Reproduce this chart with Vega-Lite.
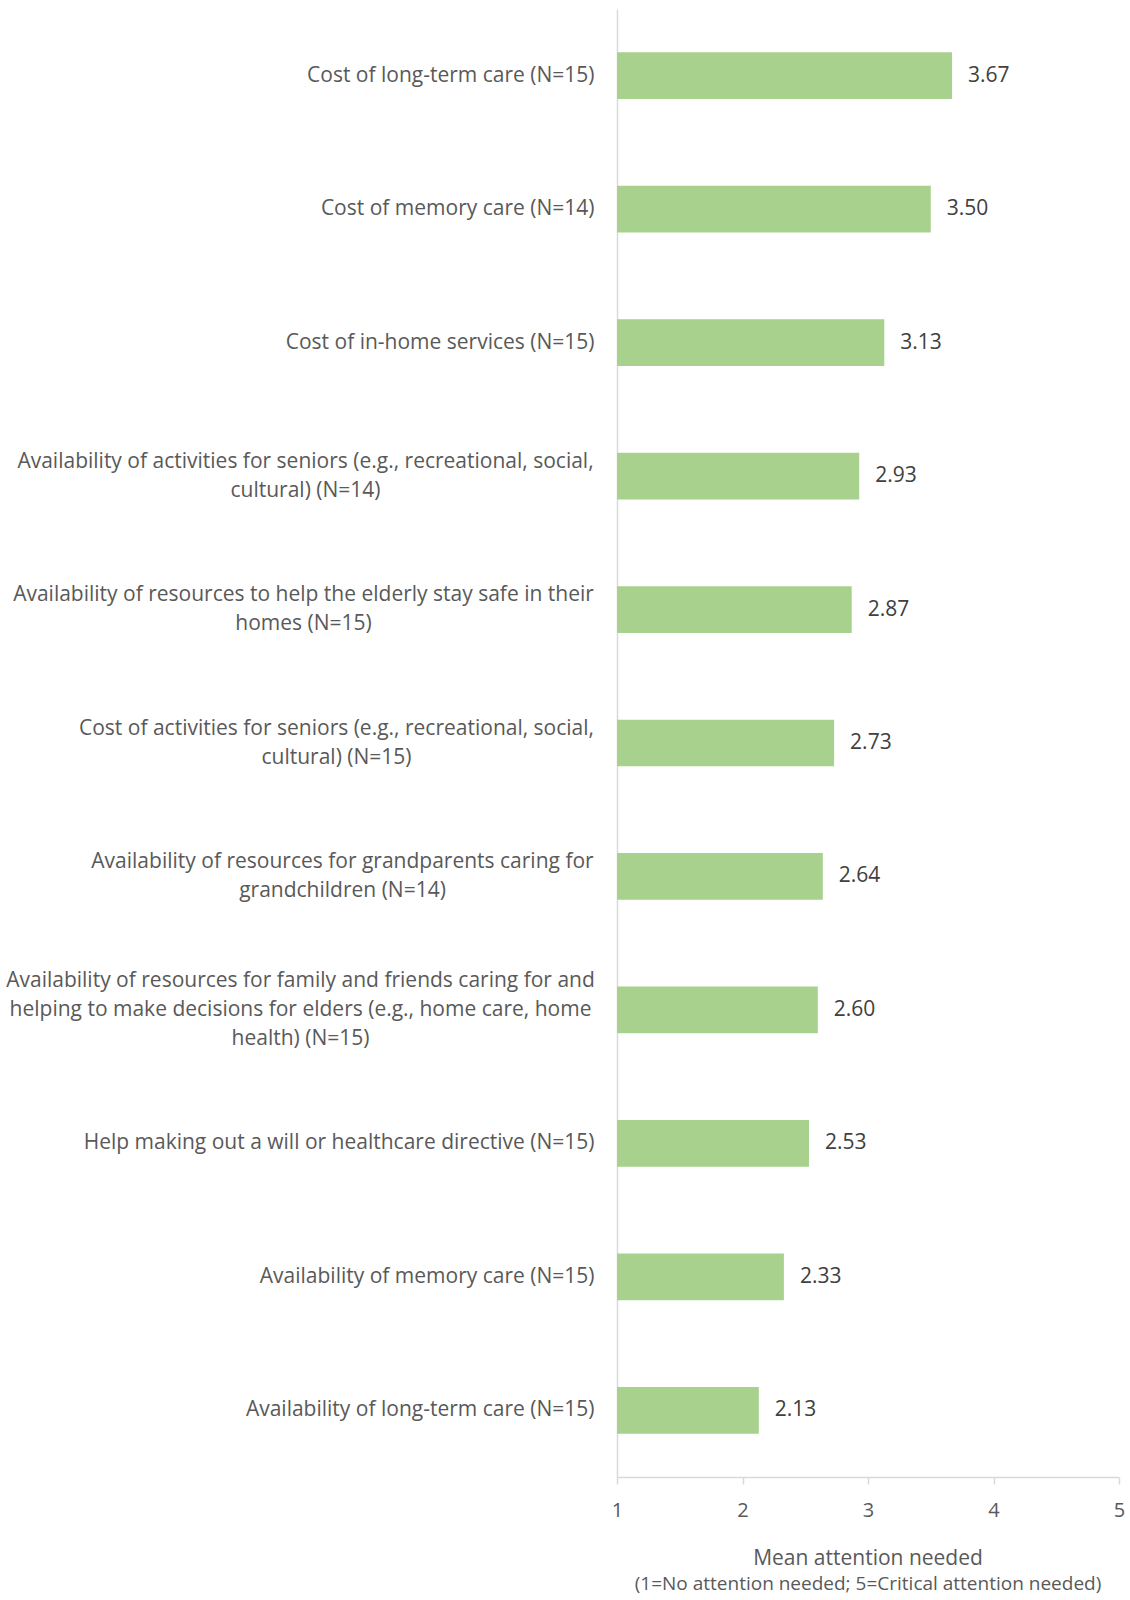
{
  "$schema": "https://vega.github.io/schema/vega-lite/v6.json",
  "autosize": "none",
  "padding": {"left": 617, "top": 9, "right": 11, "bottom": 123},
  "width": 502,
  "height": 1468,
  "background": "white",
  "config": {
    "view": {"stroke": null},
    "font": "Open Sans"
  },
  "title": {
    "text": "Mean attention needed",
    "subtitle": "(1=No attention needed; 5=Critical attention needed)",
    "orient": "bottom",
    "anchor": "middle",
    "frame": "group",
    "fontSize": 21,
    "fontWeight": "normal",
    "color": "#595959",
    "subtitleFontSize": 19,
    "subtitleColor": "#595959",
    "subtitlePadding": 6,
    "offset": 28
  },
  "data": {
    "values": [
      {"label": "Cost of long-term care (N=15)", "value": 3.67},
      {"label": "Cost of memory care (N=14)", "value": 3.50},
      {"label": "Cost of in-home services (N=15)", "value": 3.13},
      {"label": "Availability of activities for seniors (e.g., recreational, social,|cultural) (N=14)", "value": 2.93},
      {"label": "Availability of resources to help the elderly stay safe in their|homes (N=15)", "value": 2.87},
      {"label": "Cost of activities for seniors (e.g., recreational, social,|cultural) (N=15)", "value": 2.73},
      {"label": "Availability of resources for grandparents caring for|grandchildren (N=14)", "value": 2.64},
      {"label": "Availability of resources for family and friends caring for and|helping to make decisions for elders (e.g., home care, home|health) (N=15)", "value": 2.60},
      {"label": "Help making out a will or healthcare directive (N=15)", "value": 2.53},
      {"label": "Availability of memory care (N=15)", "value": 2.33},
      {"label": "Availability of long-term care (N=15)", "value": 2.13}
    ]
  },
  "encoding": {
    "y": {
      "field": "label",
      "type": "nominal",
      "sort": null,
      "scale": {"paddingInner": 0.65},
      "axis": {
        "title": null,
        "domainColor": "#D9D9D9",
        "domainWidth": 1.5,
        "ticks": false,
        "labelAlign": {
          "condition": {"test": "indexof(datum.value, '|') >= 0", "value": "center"},
          "value": "right"
        },
        "labelPadding": {
          "condition": [
            {"test": "indexof(datum.value, 'Availability of activities') == 0", "value": 312},
            {"test": "indexof(datum.value, 'Availability of resources to help') == 0", "value": 314},
            {"test": "indexof(datum.value, 'Cost of activities') == 0", "value": 281},
            {"test": "indexof(datum.value, 'Availability of resources for grandparents') == 0", "value": 275},
            {"test": "indexof(datum.value, 'Availability of resources for family') == 0", "value": 317}
          ],
          "value": 23
        },
        "labelFontSize": 21,
        "labelColor": "#595959",
        "labelLimit": 700,
        "labelLineHeight": 29,
        "labelOffset": {
          "condition": [
            {"test": "length(split(datum.value, '|')) == 3", "value": -29},
            {"test": "length(split(datum.value, '|')) == 2", "value": -14.5}
          ],
          "value": 0
        },
        "labelExpr": "split(datum.label, '|')"
      }
    }
  },
  "layer": [
    {
      "mark": {"type": "bar", "color": "#A9D18E"},
      "encoding": {
        "x": {
          "field": "value",
          "type": "quantitative",
          "scale": {"domain": [1, 5]},
          "axis": {
            "title": null,
            "values": [1, 2, 3, 4, 5],
            "format": "d",
            "grid": false,
            "domainColor": "#D9D9D9",
            "domainWidth": 1.5,
            "tickColor": "#D9D9D9",
            "tickWidth": 1.5,
            "tickSize": 7,
            "labelPadding": 16,
            "labelFontSize": 20,
            "labelColor": "#595959",
            "labelFlush": false
          }
        },
        "x2": {"datum": 1}
      }
    },
    {
      "mark": {"type": "text", "align": "left", "dx": 16, "fontSize": 21, "color": "#404040"},
      "encoding": {
        "x": {"field": "value", "type": "quantitative"},
        "text": {"field": "value", "type": "quantitative", "format": ".2f"}
      }
    }
  ]
}
